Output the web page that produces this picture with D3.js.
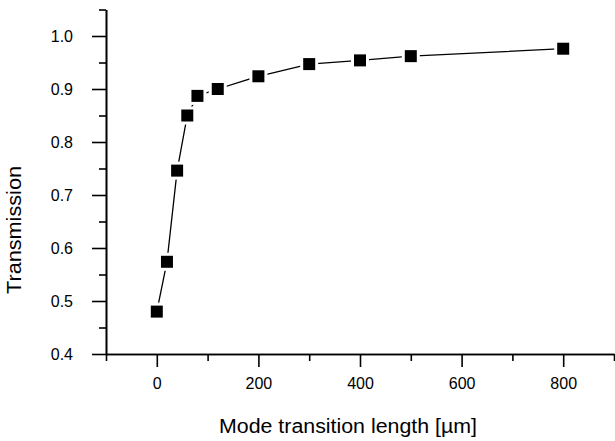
<!DOCTYPE html>
<html>
<head>
<meta charset="utf-8">
<script src="https://cdn.jsdelivr.net/npm/d3@7"></script>
<style>
  html, body { margin: 0; padding: 0; background: #fff; }
  svg { display: block; font-family: "Liberation Sans", Arial, Helvetica, sans-serif; }
</style>
</head>
<body>
<svg id="chart" width="615" height="441"></svg>
<script>
// Data
const lengths = [0, 20, 40, 60, 80, 120, 200, 300, 400, 500, 800];
const transmission = [0.480, 0.574, 0.746, 0.850, 0.887, 0.900, 0.924, 0.947, 0.954, 0.962, 0.976];
const xMajorTicks = [0, 200, 400, 600, 800];
const xMinorTicks = [-100, 100, 300, 500, 700, 900];
const yMajorTicks = [0.4, 0.5, 0.6, 0.7, 0.8, 0.9, 1.0];
const yMinorTicks = [0.45, 0.55, 0.65, 0.75, 0.85, 0.95, 1.05];
const xTitle = "Mode transition length [\u00b5m]";
const yTitle = "Transmission";

const svg = d3.select("#chart");
const x = d3.scaleLinear().domain([-100, 900]).range([106, 614]);
const y = d3.scaleLinear().domain([0.4, 1.05]).range([354, 9.5]);

// Axes
const gx = svg.append("g").attr("transform", `translate(0,${y(0.4)})`);
gx.call(d3.axisBottom(x).tickValues(xMajorTicks).tickSize(13).tickPadding(11).tickFormat(d3.format("d")).tickSizeOuter(0));
const gxm = svg.append("g").attr("transform", `translate(0,${y(0.4)})`);
gxm.call(d3.axisBottom(x).tickValues(xMinorTicks).tickSize(7).tickFormat("").tickSizeOuter(0));

const gy = svg.append("g").attr("transform", `translate(${x(-100)},0)`);
gy.call(d3.axisLeft(y).tickValues(yMajorTicks).tickSize(14).tickPadding(19).tickFormat(d3.format(".1f")).tickSizeOuter(0));
const gym = svg.append("g").attr("transform", `translate(${x(-100)},0)`);
gym.call(d3.axisLeft(y).tickValues(yMinorTicks).tickSize(7).tickFormat("").tickSizeOuter(0));

svg.selectAll(".domain").attr("stroke", "#000").attr("stroke-width", 1.6);
svg.selectAll(".tick line").attr("stroke", "#000").attr("stroke-width", 1.6);
svg.selectAll(".tick text").attr("fill", "#000").attr("font-size", 16)
   .attr("font-family", "'Liberation Sans', Arial, sans-serif");

// Line
const pts = lengths.map((d, i) => [d, transmission[i]]);
svg.append("path")
  .datum(pts)
  .attr("fill", "none")
  .attr("stroke", "#000")
  .attr("stroke-width", 1.3)
  .attr("d", d3.line().x(d => x(d[0])).y(d => y(d[1])));

// Markers: white halo then black square
const ms = 12, halo = 3;
svg.append("g").selectAll("rect").data(pts).join("rect")
  .attr("x", d => x(d[0]) - ms / 2 - halo)
  .attr("y", d => y(d[1]) - ms / 2 - halo)
  .attr("width", ms + 2 * halo).attr("height", ms + 2 * halo)
  .attr("fill", "#fff");
svg.append("g").selectAll("rect").data(pts).join("rect")
  .attr("x", d => x(d[0]) - ms / 2)
  .attr("y", d => y(d[1]) - ms / 2)
  .attr("width", ms).attr("height", ms)
  .attr("fill", "#000");

// Titles
svg.append("text")
  .attr("x", 348).attr("y", 433)
  .attr("text-anchor", "middle")
  .attr("font-size", 20)
  .attr("fill", "#000")
  .attr("textLength", 258)
  .attr("lengthAdjust", "spacingAndGlyphs")
  .text(xTitle);

svg.append("text")
  .attr("transform", "translate(21,230) rotate(-90)")
  .attr("text-anchor", "middle")
  .attr("font-size", 20)
  .attr("fill", "#000")
  .attr("textLength", 128)
  .attr("lengthAdjust", "spacingAndGlyphs")
  .text(yTitle);
</script>
</body>
</html>
